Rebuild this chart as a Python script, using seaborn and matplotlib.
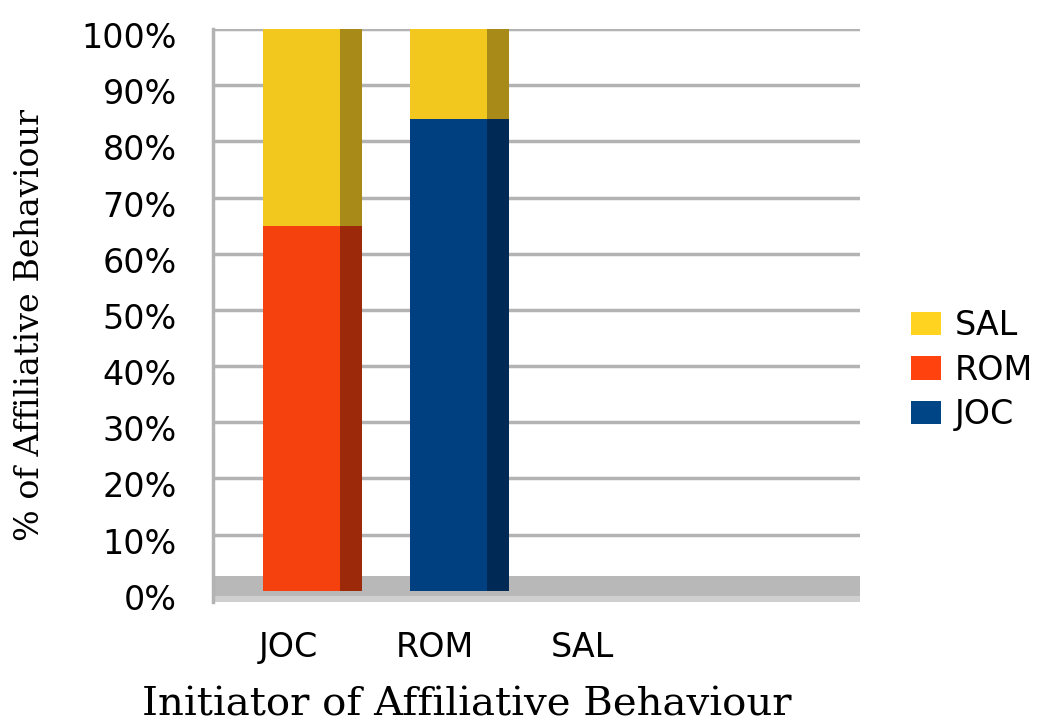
import matplotlib
matplotlib.use("Agg")
import matplotlib.pyplot as plt
import matplotlib.transforms as mtransforms
from matplotlib.patches import Patch
import seaborn as sns
import pandas as pd
import numpy as np

# ---- data (percent of affiliative behaviour) ----
initiators = ["JOC", "ROM", "SAL"]
recv_joc = [0, 84, 0]
recv_rom = [65, 0, 0]
recv_sal = [35, 16, 0]
y_ticks = [0, 10, 20, 30, 40, 50, 60, 70, 80, 90, 100]
y_tick_labels = [f"{v}%" for v in y_ticks]

front_cols = {"SAL": "#f2c81e", "ROM": "#f4410d", "JOC": "#004080"}
side_cols = {"SAL": "#a88a18", "ROM": "#9c2a0a", "JOC": "#002a55"}
legend_cols = {"SAL": "#ffd320", "ROM": "#ff420e", "JOC": "#004586"}

sns.set_theme(style="white")
plt.rcParams["font.family"] = ["DejaVu Sans"]
plt.rcParams["text.color"] = "black"
plt.rcParams["xtick.color"] = "black"
plt.rcParams["ytick.color"] = "black"
plt.rcParams["axes.labelcolor"] = "black"

fig = plt.figure(figsize=(10.46, 7.28), dpi=100)
ax = fig.add_axes([213 / 1046, 1 - 602 / 728, 647 / 1046, 573 / 728])

j = np.array(recv_joc, float)
r = np.array(recv_rom, float)
s = np.array(recv_sal, float)
layers = [("SAL", j + r + s), ("ROM", j + r), ("JOC", j)]

front_w = 0.524
side_w = 0.672
shift = side_w / 2 - front_w / 2

# side (depth) faces
for name, vals in layers:
    n0 = len(ax.patches)
    df = pd.DataFrame({"cat": initiators, "val": vals})
    sns.barplot(data=df, x="cat", y="val", color=side_cols[name], width=side_w,
                saturation=1, ax=ax, zorder=2, linewidth=0)
    for p in ax.patches[n0:]:
        p.set_x(p.get_x() + shift)
# front faces
for name, vals in layers:
    df = pd.DataFrame({"cat": initiators, "val": vals})
    sns.barplot(data=df, x="cat", y="val", color=front_cols[name], width=front_w,
                saturation=1, ax=ax, zorder=3, linewidth=0)

# floor
ax.axhspan(-2.0, 2.7, color="#b8b8b8", zorder=1, lw=0)
ax.axhspan(-2.0, -0.9, color="#cfcfcf", zorder=1, lw=0)

ax.set_xlim(-0.6, 3.8)
ax.set_ylim(-2.0, 100)
ax.set_yticks(y_ticks)
ax.set_yticklabels(y_tick_labels, fontsize=24)
ax.tick_params(axis="y", length=0, pad=26, labelsize=24)
ax.tick_params(axis="x", length=0, pad=21, labelsize=24)
ax.grid(axis="y", color="#b3b3b3", lw=2.5, zorder=0)
ax.set_axisbelow(True)

for side in ["top", "right", "bottom"]:
    ax.spines[side].set_visible(False)
ax.spines["left"].set_color("#b3b3b3")
ax.spines["left"].set_linewidth(2.5)

# label offsets
off_x = mtransforms.ScaledTranslation(-13 / 100, 0, fig.dpi_scale_trans)
for lab in ax.get_xticklabels():
    lab.set_transform(lab.get_transform() + off_x)
off_y = mtransforms.ScaledTranslation(0, -6 / 100, fig.dpi_scale_trans)
for lab in ax.get_yticklabels():
    lab.set_transform(lab.get_transform() + off_y)

ax.set_xlabel("Initiator of Affiliative Behaviour", family="DejaVu Serif",
              fontsize=29, va="center")
ax.xaxis.set_label_coords((467 - 213) / 647, (602 - 705) / 573)
ax.set_ylabel("% of Affiliative Behaviour", family="DejaVu Serif",
              fontsize=24, va="center")
ax.yaxis.set_label_coords((30 - 213) / 647, (602 - 325) / 573)

handles = [Patch(facecolor=legend_cols[k], edgecolor="none", label=k)
           for k in ["SAL", "ROM", "JOC"]]
fig.legend(handles=handles, loc="center left",
           bbox_to_anchor=(911 / 1046, 1 - 370 / 728), frameon=False,
           fontsize=24, handlelength=0.9, handleheight=0.7,
           handletextpad=0.4, labelspacing=0.35, borderpad=0, borderaxespad=0)

fig.savefig("out.png", dpi=100)
